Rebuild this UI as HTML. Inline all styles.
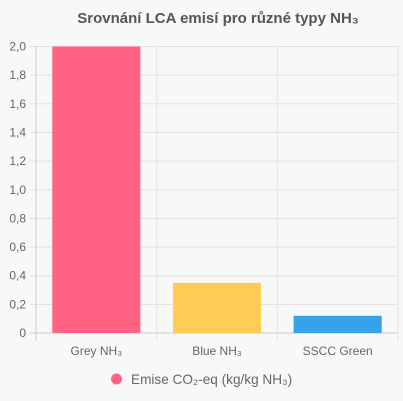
<!DOCTYPE html>
<html><head><meta charset="utf-8"><style>
html,body{margin:0;padding:0;background:#f7f8f8;}
svg{display:block;font-family:"Liberation Sans",sans-serif;}
</style></head><body>
<svg id="c" width="403" height="401">
<rect width="403" height="401" fill="#f7f8f8"/>
<text x="218" y="23" text-anchor="middle" font-size="15" font-weight="bold" fill="#555">Srovnání LCA emisí pro různé typy NH₃</text>
<g id="grid"></g>
<g id="bars"></g>
<g id="labels"></g>
<g>
<circle cx="116.5" cy="379" r="5.5" fill="#ff6384"/>
<text x="131" y="384" font-size="13.6" fill="#666">Emise CO₂-eq (kg/kg NH₃)</text>
</g>
</svg>
<script>
const categories=["Grey NH₃","Blue NH₃","SSCC Green"];
const values=[2.0,0.35,0.12];
const colors=["#ff6384","#ffcd56","#36a2eb"];
const ticks=[0,0.2,0.4,0.6,0.8,1.0,1.2,1.4,1.6,1.8,2.0];
const tickLabels=["0","0,2","0,4","0,6","0,8","1,0","1,2","1,4","1,6","1,8","2,0"];
const NS="http://www.w3.org/2000/svg";
const L=36,R=398,T=46.5,B=333,yMax=2.0;
const y=v=>B-(v/yMax)*(B-T);
const bw=(R-L)/categories.length;
const x=i=>L+i*bw;
function mk(tag,attrs,parent){const e=document.createElementNS(NS,tag);for(const k in attrs)e.setAttribute(k,attrs[k]);parent.appendChild(e);return e;}
const grid=document.getElementById('grid'),bars=document.getElementById('bars'),labels=document.getElementById('labels');
ticks.forEach((t,i)=>{
 const ln=mk('line',{x1:L-6,x2:R,y1:y(t),y2:y(t),stroke:i===0?'#ccc':'#e2e2e2','stroke-width':1},grid);
 
 
 const tx=mk('text',{x:L-10,y:y(t)+4,'text-anchor':'end','font-size':12,fill:'#666'},labels);
 tx.textContent=tickLabels[i];
 
 
});
for(let i=0;i<=categories.length;i++){
 const ln=mk('line',{x1:x(i),x2:x(i),y1:T,y2:B+8,stroke:i===0?'#ccc':'#e2e2e2','stroke-width':1},grid);
 
 
}
categories.forEach((c,i)=>{
 const pad=bw*0.135;
 const r=mk('rect',{x:x(i)+pad,y:y(values[i]),width:bw-2*pad,height:B-y(values[i]),fill:colors[i]},bars);
 
 
 const tx=mk('text',{x:x(i)+bw/2,y:355,'text-anchor':'middle','font-size':12,fill:'#666'},labels);
 tx.textContent=c;
 
 
});
</script>
</body></html>
